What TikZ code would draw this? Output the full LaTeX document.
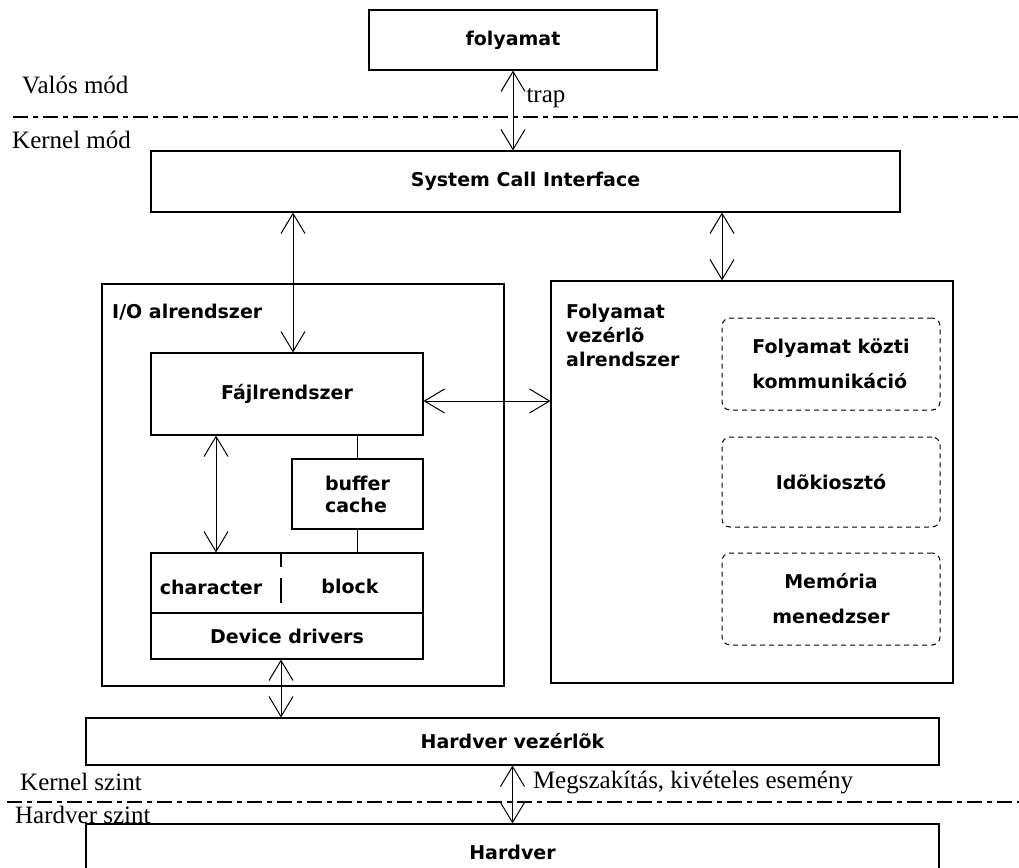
\documentclass[tikz,border=0pt]{standalone}
\usepackage{fontspec}
\setmainfont{Liberation Serif}
\setsansfont{DejaVu Sans}
\usetikzlibrary{arrows.meta, calc}
\tikzset{
  box/.style={
    draw, line width=1.1pt,
    font=\sffamily\bfseries\fontsize{19}{23}\selectfont,
    align=center, inner sep=0pt
  },
  subbox/.style={
    draw, line width=1pt, dash pattern=on 5pt off 4pt,
    rounded corners=8pt,
    minimum width=218pt,
    font=\sffamily\bfseries\fontsize{19}{35}\selectfont,
    inner sep=0pt
  },
  twoway/.style={{Straight Barb[length=20pt,width=24pt]}-{Straight Barb[length=20pt,width=24pt]}, line width=1pt},
  link/.style={line width=1.1pt},
  modeline/.style={line width=1.1pt, dash pattern=on 15pt off 5pt on 5pt off 5pt},
  lbl/.style={font=\fontsize{25}{29}\selectfont, inner sep=0pt, anchor=west},
  boxlbl/.style={font=\sffamily\bfseries\fontsize{19}{24}\selectfont, inner sep=0pt, align=left}
}

\begin{document}
\begin{tikzpicture}[x=1pt, y=-1pt]
\useasboundingbox (0,0) rectangle (1019,867);

% Process and system call layer
\node[box, minimum width=288pt, minimum height=60pt] (proc) at (513,40) {folyamat};
\node[box, minimum width=749pt, minimum height=61pt] (sci) at (525.5,181.5) {System Call Interface};

% Mode lines
\draw[modeline] (13,117) -- (1019,117);
\node[lbl] (valos) at (22,85) {Valós mód};
\node[lbl] (kernmod) at (12,140) {Kernel mód};
\draw[twoway] (proc.south) -- (proc.south |- sci.north) node[lbl, pos=0.35, xshift=13pt] {trap};

% I/O subsystem
\node[box, minimum width=402pt, minimum height=402pt] (io) at (303,485) {};
\node[boxlbl, anchor=west] (iolbl) at (112,312) {I/O alrendszer};
\node[box, minimum width=272pt, minimum height=82pt] (fs) at (287,394) {Fájlrendszer};
\node[box, minimum width=131pt, minimum height=70pt, align=left, font=\sffamily\bfseries\fontsize{19}{22}\selectfont] (buf) at (357.5,494) {buffer\\cache};
\node[box, minimum width=272pt, minimum height=60pt] (devtop) at (287,583) {};
\node[box, minimum width=272pt, minimum height=46pt] (drv) at (287,636) {Device drivers};
\node[boxlbl] (chr) at (211,587) {character};
\node[boxlbl] (blk) at (350,586) {block};
\draw[link] (281,553) -- (281,567) (281,578) -- (281,603);

% Process control subsystem
\node[box, minimum width=402pt, minimum height=402pt] (pcs) at (752,482) {};
\node[boxlbl, anchor=north west] (pcslbl) at (566,304) {Folyamat\\vezérlõ\\alrendszer};
\node[subbox, minimum height=92pt, align=left] (ipc) at (831,364) {Folyamat közti\\kommunikáció};
\node[subbox, minimum height=90pt, align=center] (sched) at (831,482) {Idõkiosztó};
\node[subbox, minimum height=92pt, align=center] (mem) at (831,599) {Memória\\menedzser};

% Hardware
\node[box, minimum width=853pt, minimum height=47pt] (hwc) at (512.5,741.5) {Hardver vezérlõk};
\node[box, minimum width=853pt, minimum height=56pt] (hw) at (512.5,852) {Hardver};
\draw[modeline] (7,802) -- (1019,802);
\node[lbl] (kszint) at (20,782) {Kernel szint};
\node[lbl] (hszint) at (15,815) {Hardver szint};

% Connections
\draw[twoway] ([xshift=6pt]fs.north) -- ([xshift=6pt]fs.north |- sci.south);
\draw[twoway] ([xshift=-30pt]pcs.north) -- ([xshift=-30pt]pcs.north |- sci.south);
\draw[twoway] ([yshift=-7pt]fs.east) -- ([yshift=-7pt]fs.east -| pcs.west);
\draw[twoway] ([xshift=-71pt]fs.south) -- ([xshift=-71pt]fs.south |- devtop.north);
\draw[link] (buf.north) -- (buf.north |- fs.south);
\draw[link] (buf.south) -- (buf.south |- devtop.north);
\draw[twoway] ([xshift=-6pt]drv.south) -- ([xshift=-6pt]drv.south |- hwc.north);
\draw[twoway] (hwc.south) -- (hwc.south |- hw.north) node[lbl, pos=0.29, xshift=20pt] {Megszakítás, kivételes esemény};

\end{tikzpicture}
\end{document}
